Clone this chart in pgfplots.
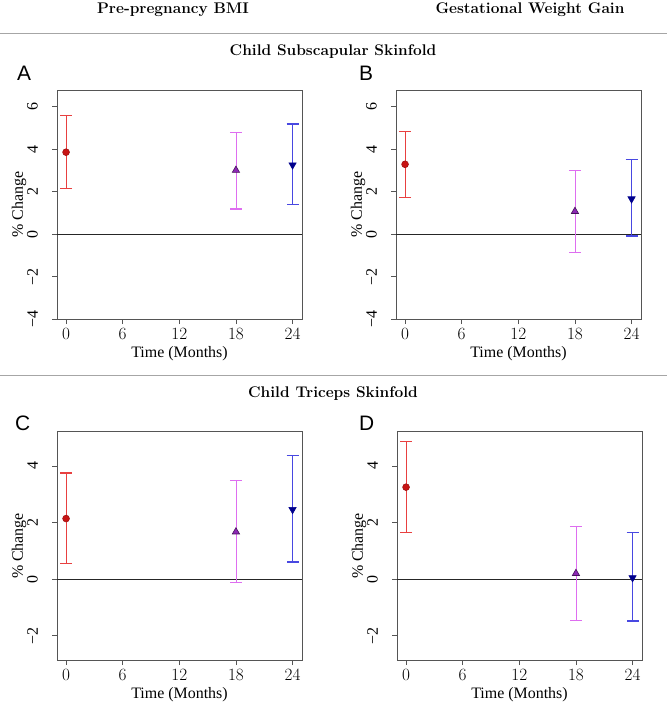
\documentclass[border=0pt]{standalone}
\usepackage{fontspec}
\usepackage{pgfplots}
\pgfplotsset{compat=1.18}
\newfontfamily\rfont{Liberation Serif}
\newfontfamily\letfont{Liberation Sans}

\definecolor{barred}{RGB}{232,64,64}
\definecolor{ptred}{RGB}{200,20,20}
\definecolor{barpurple}{RGB}{222,110,240}
\definecolor{ptpurple}{RGB}{140,40,180}
\definecolor{barblue}{RGB}{72,72,225}
\definecolor{ptblue}{RGB}{0,0,140}
\definecolor{boxgray}{RGB}{85,85,85}

\pgfplotsset{
  panel/.style={
    scale only axis, width=245bp,
    xmin=-0.96, xmax=25, xtick={0,6,12,18,24},
    tick align=outside, tick pos=left, major tick length=5bp,
    axis line style={boxgray, line width=1bp},
    tick style={boxgray, line width=0.8bp},
    ticklabel style={font=\rfont\fontsize{16}{16}\selectfont, inner sep=0pt},
    yticklabel style={rotate=90, anchor=south},
    xticklabel shift=4bp, yticklabel shift=14bp,
    xlabel={Time (Months)}, ylabel={\% Change},
    every axis y label/.style={at={(axis description cs:-0.155,0.5)}, anchor=center, rotate=90,
      font=\rfont\fontsize{16}{16}\selectfont},
    every axis x label/.style={at={(axis description cs:0.5,-0.15)}, anchor=center,
      font=\rfont\fontsize{16}{16}\selectfont},
  },
  toprow/.style={panel, height=229bp, ymin=-4, ymax=6.79,
    ytick={-4,-2,0,2,4,6}, yticklabels={−4,−2,0,2,4,6}},
  botrow/.style={panel, height=228bp, ymin=-2.86, ymax=5.2,
    ytick={-2,0,2,4}, yticklabels={−2,0,2,4}},
  ci/.style={only marks, color=#1, line width=1.3bp,
    error bars/y dir=both, error bars/y explicit,
    error bars/error mark options={rotate=90, mark size=6bp, line width=1.3bp, color=#1}},
  redpt/.style={ci=barred, mark=*, mark size=3.4bp,
    mark options={fill=ptred, draw=ptred!80!black, line width=0.6bp}},
  purplept/.style={ci=barpurple, mark=triangle*, mark size=4.2bp,
    mark options={fill=ptpurple, draw=ptpurple!50!black, line width=0.6bp}},
  bluept/.style={ci=barblue, mark=triangle*, mark size=4.2bp,
    mark options={fill=ptblue, draw=ptblue, rotate=180, line width=0.6bp}},
  zeroline/.style={no marks, gray!30!black, line width=1bp, forget plot},
}

\begin{document}
\begin{tikzpicture}
\useasboundingbox (0,0) rectangle (667bp,-704bp);

\node[anchor=base, font=\bfseries\fontsize{15.5}{15.5}\selectfont] at (173bp,-13bp) {Pre-pregnancy BMI};
\node[anchor=base, font=\bfseries\fontsize{15.5}{15.5}\selectfont] at (530bp,-13bp) {Gestational Weight Gain};
\draw[gray!70, line width=1bp] (0,-33bp) -- (667bp,-33bp);
\node[anchor=base, font=\bfseries\fontsize{15.5}{15.5}\selectfont] at (333bp,-55bp) {Child Subscapular Skinfold};
\draw[gray!70, line width=1bp] (0,-375bp) -- (667bp,-375bp);
\node[anchor=base, font=\bfseries\fontsize{15.5}{15.5}\selectfont] at (333bp,-397bp) {Child Triceps Skinfold};

\node[anchor=base west, inner sep=0pt, font=\letfont\fontsize{21}{21}\selectfont] at (17bp,-80bp) {A};
\node[anchor=base west, inner sep=0pt, font=\letfont\fontsize{21}{21}\selectfont] at (359bp,-80bp) {B};
\node[anchor=base west, inner sep=0pt, font=\letfont\fontsize{21}{21}\selectfont] at (15bp,-430bp) {C};
\node[anchor=base west, inner sep=0pt, font=\letfont\fontsize{21}{21}\selectfont] at (359bp,-430bp) {D};

% A: subscapular, pre-pregnancy BMI
\begin{axis}[toprow, at={(57bp,-319bp)}, anchor=south west]
\addplot[zeroline] coordinates {(-0.96,0) (25,0)};
\addplot[redpt] coordinates {(0,3.86) += (0,1.72) -= (0,1.71)};
\addplot[purplept] coordinates {(18,3.01) += (0,1.77) -= (0,1.82)};
\addplot[bluept] coordinates {(24,3.26) += (0,1.93) -= (0,1.85)};
\end{axis}
% B: subscapular, gestational weight gain
\begin{axis}[toprow, at={(396bp,-319bp)}, anchor=south west]
\addplot[zeroline] coordinates {(-0.96,0) (25,0)};
\addplot[redpt] coordinates {(0,3.29) += (0,1.54) -= (0,1.55)};
\addplot[purplept] coordinates {(18,1.07) += (0,1.92) -= (0,1.93)};
\addplot[bluept] coordinates {(24,1.66) += (0,1.84) -= (0,1.75)};
\end{axis}
% C: triceps, pre-pregnancy BMI
\begin{axis}[botrow, at={(57bp,-660bp)}, anchor=south west]
\addplot[zeroline] coordinates {(-0.96,0) (25,0)};
\addplot[redpt] coordinates {(0,2.14) += (0,1.61) -= (0,1.59)};
\addplot[purplept] coordinates {(18,1.67) += (0,1.81) -= (0,1.80)};
\addplot[bluept] coordinates {(24,2.46) += (0,1.90) -= (0,1.86)};
\end{axis}
% D: triceps, gestational weight gain
\begin{axis}[botrow, at={(397bp,-660bp)}, anchor=south west]
\addplot[zeroline] coordinates {(-0.96,0) (25,0)};
\addplot[redpt] coordinates {(0,3.25) += (0,1.61) -= (0,1.60)};
\addplot[purplept] coordinates {(18,0.20) += (0,1.66) -= (0,1.66)};
\addplot[bluept] coordinates {(24,0.05) += (0,1.59) -= (0,1.53)};
\end{axis}
\end{tikzpicture}
\end{document}
